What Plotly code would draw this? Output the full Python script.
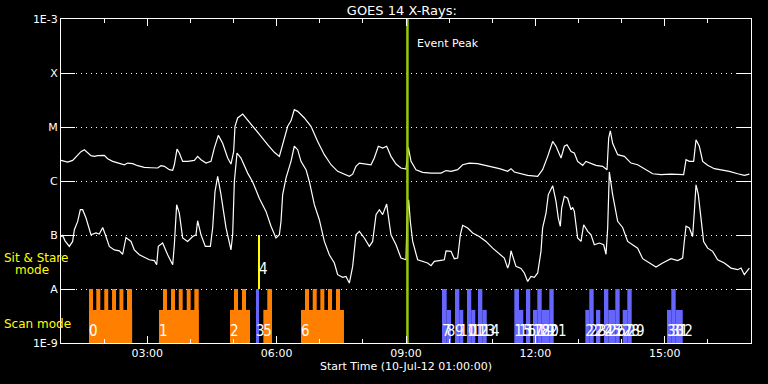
import pandas as pd
import plotly.graph_objects as go

START = "2012-07-10 01:00:00"
DAY = "2012-07-10 "

# ---------------- GOES 14 X-ray fluxes (W/m^2), time in minutes after start ----------------
long_min = [0, 9.3, 16.2, 20.9, 27.8, 32.5, 37.1, 41.7, 46.4, 51.0, 60.3, 64.9, 71.9, 81.2, 88.1,
            92.8, 99.7, 106.7, 115.9, 125.2, 134.5, 139.1, 143.8, 150.7, 155.4, 157.7, 161.4, 164.6,
            169.3, 176.2, 185.5, 190.1, 194.8, 201.7, 208.7, 213.3, 218.9, 224.9, 231.9, 236.5, 240.2,
            242.1, 245.8, 252.8, 259.7, 269.0, 278.3, 287.5, 296.8, 303.8, 308.4, 315.4, 320.0, 324.6,
            329.3, 338.6, 347.8, 357.1, 366.4, 375.7, 384.9, 394.2, 401.2, 405.8, 410.4, 415.1, 424.3,
            431.3, 435.9, 441.5, 447.5, 453.1, 459.1, 466.1, 473.0, 480.0, 481.4, 483.2, 487.0, 493.9,
            503.2, 514.8, 528.7, 535.7, 542.6, 551.9, 558.8, 568.1, 579.7, 589.0, 598.3, 609.9, 621.5,
            626.1, 630.7, 640.0, 649.3, 663.2, 670.1, 677.1, 684.1, 688.7, 695.7, 700.3, 704.0, 709.6,
            714.2, 718.8, 725.8, 730.4, 737.4, 744.3, 753.6, 759.7, 762.0, 764.3, 767.5, 774.5, 783.8,
            793.0, 802.3, 811.6, 823.2, 834.8, 848.7, 866.3, 869.6, 874.2, 880.2, 883.5, 888.1, 892.8,
            899.7, 909.0, 918.3, 929.9, 941.5, 950.7, 957.7]
long_flux = [2.41e-6, 2.24e-6, 2.41e-6, 2.86e-6, 3.5e-6, 3.8e-6, 3.3e-6, 2.94e-6, 2.86e-6, 2.94e-6,
             2.98e-6, 2.59e-6, 2.31e-6, 2.09e-6, 2.0e-6, 2.15e-6, 2.09e-6, 1.92e-6, 1.79e-6, 1.76e-6,
             1.74e-6, 1.92e-6, 1.87e-6, 1.62e-6, 1.58e-6, 2.0e-6, 3.9e-6, 3.3e-6, 2.31e-6, 2.31e-6,
             2.41e-6, 2.86e-6, 2.48e-6, 2.15e-6, 2.31e-6, 4.07e-6, 7.0e-6, 5.0e-6, 2.66e-6, 2.06e-6,
             3.5e-6, 1.03e-5, 1.47e-5, 1.74e-5, 1.36e-5, 9.6e-6, 6.7e-6, 4.7e-6, 3.4e-6, 2.86e-6,
             4.7e-6, 1.03e-5, 1.3e-5, 2.09e-5, 1.95e-5, 1.47e-5, 1.03e-5, 5.4e-6, 3.07e-6, 2.0e-6,
             1.51e-6, 1.31e-6, 1.22e-6, 1.34e-6, 1.87e-6, 2.15e-6, 2.09e-6, 2.0e-6, 2.66e-6, 4.4e-6,
             4.07e-6, 4.4e-6, 2.86e-6, 2.06e-6, 1.74e-6, 1.67e-6, 2.48e-6, 4.2e-6, 2.31e-6, 1.62e-6,
             1.45e-6, 1.40e-6, 1.40e-6, 1.56e-6, 1.51e-6, 1.62e-6, 2.0e-6, 2.15e-6, 2.09e-6, 1.95e-6,
             1.87e-6, 1.69e-6, 1.51e-6, 1.69e-6, 1.47e-6, 1.38e-6, 1.27e-6, 1.22e-6, 1.62e-6, 2.86e-6,
             5.4e-6, 4.4e-6, 2.66e-6, 4.4e-6, 4.7e-6, 3.5e-6, 3.3e-6, 2.31e-6, 1.95e-6, 2.31e-6,
             2.15e-6, 1.95e-6, 1.87e-6, 1.62e-6, 6.25e-6, 8.5e-6, 5.0e-6, 3.07e-6, 2.86e-6, 2.15e-6,
             2.0e-6, 1.69e-6, 1.36e-6, 1.31e-6, 1.34e-6, 1.31e-6, 2.48e-6, 2.31e-6, 2.31e-6, 5.8e-6,
             4.4e-6, 2.31e-6, 1.95e-6, 1.69e-6, 1.62e-6, 1.51e-6, 1.36e-6, 1.27e-6, 1.34e-6]

short_min = [0, 2.3, 5.6, 11.6, 16.2, 18.6, 23.2, 26.9, 30.1, 34.8, 41.7, 48.7, 53.3, 58.0, 62.6,
             67.2, 74.2, 81.2, 85.8, 90.4, 97.4, 102.0, 109.0, 115.9, 122.9, 129.9, 133.1, 135.4,
             141.4, 148.4, 155.4, 157.7, 160.9, 164.6, 169.3, 176.2, 183.2, 187.8, 190.1, 194.8,
             200.8, 207.8, 211.0, 214.3, 218.0, 222.6, 229.6, 236.5, 238.8, 241.2, 244.9, 250.4,
             259.7, 266.7, 275.9, 285.2, 292.2, 299.1, 303.8, 306.1, 308.4, 313.0, 320.0, 324.6,
             329.3, 333.9, 340.9, 345.5, 352.5, 359.4, 366.4, 373.3, 380.3, 384.9, 391.9, 396.5,
             401.2, 405.8, 410.4, 415.1, 422.0, 429.0, 433.6, 438.3, 442.9, 447.5, 453.1, 459.1,
             466.1, 473.0, 480.0, 481.4, 483.7, 486.0, 489.3, 496.2, 503.2, 510.1, 514.8, 519.4,
             528.7, 533.3, 535.7, 542.6, 547.2, 551.9, 555.6, 558.8, 565.8, 572.8, 582.0, 591.3,
             600.6, 609.9, 616.8, 621.5, 623.8, 626.1, 629.8, 633.0, 640.0, 644.6, 649.3, 653.9,
             658.6, 663.2, 667.8, 670.1, 674.8, 678.0, 684.1, 688.7, 691.9, 694.7, 696.6, 700.3,
             704.9, 709.6, 711.9, 714.2, 718.8, 723.5, 727.2, 732.8, 737.4, 742.0, 749.0, 755.0,
             758.3, 760.6, 762.9, 767.5, 774.5, 781.4, 788.4, 795.4, 802.3, 809.3, 818.5, 827.8,
             837.1, 848.7, 858.0, 864.9, 867.2, 869.6, 874.2, 878.8, 881.2, 883.5, 886.7, 890.4,
             894.1, 899.7, 906.7, 913.6, 922.9, 932.2, 941.5, 946.1, 950.7, 957.7]
short_flux = [9.4e-8, 9.8e-8, 7.8e-8, 6.15e-8, 7.6e-8, 1.25e-7, 1.79e-7, 2.94e-7, 2.94e-7, 2.06e-7,
              1.01e-7, 1.09e-7, 1.04e-7, 1.38e-7, 9.4e-8, 6.15e-8, 5.3e-8, 5.1e-8, 4.4e-8, 9.0e-8,
              7.6e-8, 5.3e-8, 4.3e-8, 3.9e-8, 3.48e-8, 3.35e-8, 2.82e-8, 6.15e-8, 7.1e-8, 4.3e-8,
              2.82e-8, 6.6e-8, 3.64e-7, 2.55e-7, 8.8e-8, 7.6e-8, 9.4e-8, 1.01e-7, 1.84e-7, 1.01e-7,
              6.15e-8, 6.15e-8, 1.35e-7, 6.4e-7, 1.22e-6, 5.6e-7, 1.35e-7, 5.3e-8, 1.01e-7, 9.8e-7,
              3.3e-6, 2.66e-6, 1.40e-6, 9.6e-7, 4.8e-7, 2.74e-7, 1.45e-7, 8.8e-8, 1.01e-7, 1.79e-7,
              5.6e-7, 1.13e-6, 2.31e-6, 4.4e-6, 3.8e-6, 2.31e-6, 1.62e-6, 9.8e-7, 3.64e-7, 1.92e-7,
              7.6e-8, 4.3e-8, 3.03e-8, 1.84e-8, 1.64e-8, 1.71e-8, 1.29e-8, 2.62e-8, 1.01e-7, 1.17e-7,
              8.8e-8, 6.15e-8, 7.6e-8, 2.38e-7, 2.94e-7, 2.38e-7, 3.74e-7, 1.01e-7, 6.6e-8, 3.74e-8,
              3.48e-8, 2.06e-7, 4.5e-7, 1.79e-7, 7.6e-8, 3.48e-8, 3.25e-8, 3.03e-8, 2.7e-8, 3.25e-8,
              3.4e-8, 3.48e-8, 5.1e-8, 4.98e-8, 3.64e-8, 3.74e-8, 1.01e-7, 1.51e-7, 1.35e-7, 1.09e-7,
              9.4e-8, 7.6e-8, 5.7e-8, 4.4e-8, 3.74e-8, 2.44e-8, 3.03e-8, 5.1e-8, 3.48e-8, 2.62e-8,
              2.4e-8, 1.98e-8, 1.38e-8, 1.71e-8, 1.64e-8, 1.98e-8, 4.98e-8, 1.35e-7, 2.55e-7, 5.6e-7,
              8.2e-7, 4.2e-7, 2.06e-7, 1.45e-7, 3.16e-7, 5.2e-7, 4.8e-7, 2.94e-7, 3.25e-7, 2.74e-7,
              8.8e-8, 7.6e-8, 1.55e-7, 1.17e-7, 1.01e-7, 6.6e-8, 7.1e-8, 6.6e-8, 4.4e-8, 1.35e-7,
              1.47e-6, 5.6e-7, 1.79e-7, 1.38e-7, 7.6e-8, 6.6e-8, 5.7e-8, 3.64e-8, 3.03e-8, 2.55e-8,
              3.03e-8, 3.64e-8, 3.35e-8, 3.74e-8, 7.6e-8, 1.45e-7, 1.35e-7, 9.4e-8, 2.74e-7, 8.5e-7,
              5.6e-7, 1.79e-7, 7.6e-8, 5.7e-8, 4.98e-8, 3.48e-8, 3.03e-8, 2.44e-8, 2.28e-8, 2.44e-8,
              1.84e-8, 2.44e-8]

# ---------------- observations ----------------
FULL_TOP = 1e-8      # bar top level (A)
MID_TOP = 4.1e-9     # lower bar level
FLOOR = 1e-9

# scan-mode observations (orange): overall extent
scan_ids = ["0", "1", "2", "5", "6"]
scan_start = ["01:39:00", "03:16:18", "04:55:06", "05:41:30", "06:33:54"]
scan_end = ["02:39:00", "04:11:36", "05:23:00", "05:53:36", "07:33:42"]
# raster teeth reaching the full level
tooth_start = ["01:39:00", "01:49:06", "02:00:12", "02:11:00", "02:21:18", "02:31:48",
               "03:21:54", "03:33:00", "03:43:48", "03:54:54", "04:05:30",
               "05:00:42", "05:11:48",
               "05:47:00",
               "06:39:30", "06:50:12", "07:00:48", "07:11:30", "07:22:36"]
tooth_end = ["01:44:30", "01:54:42", "02:05:42", "02:16:30", "02:26:48", "02:38:48",
             "03:27:30", "03:38:36", "03:49:18", "04:00:24", "04:11:36",
             "05:06:18", "05:17:24",
             "05:53:36",
             "06:45:06", "06:55:48", "07:06:24", "07:17:06", "07:28:12"]

# other observations (blue)
obs_ids = ["3"] + [str(i) for i in range(7, 33)]
obs_start = ["05:31:18",
             "09:50:06", "09:56:36", "10:08:12", "10:14:12", "10:24:54", "10:30:48", "10:40:12", "10:46:12",
             "11:30:42", "11:37:12", "11:46:54", "11:56:42", "12:02:42", "12:08:48", "12:19:24",
             "13:09:30", "13:15:00", "13:24:18", "13:35:30", "13:41:30", "13:51:12", "14:01:30", "14:07:54",
             "15:03:06", "15:09:06", "15:15:12"]
obs_end = ["05:35:30",
           "09:56:36", "10:02:36", "10:14:12", "10:19:42", "10:30:48", "10:36:24", "10:46:12", "10:52:18",
           "11:37:12", "11:43:12", "11:52:54", "12:02:42", "12:08:48", "12:19:24", "12:25:30",
           "13:15:00", "13:21:06", "13:30:18", "13:41:30", "13:51:12", "13:57:18", "14:07:54", "14:14:00",
           "15:09:06", "15:15:12", "15:25:00"]
obs_level = ["full",
             "full", "mid", "full", "mid", "full", "mid", "full", "mid",
             "full", "mid", "full", "mid", "full", "mid", "full",
             "mid", "full", "mid", "full", "mid", "full", "mid", "full",
             "mid", "full", "mid"]

# sit & stare observation (yellow)
sit_id = "4"
sit_time = "05:35:30"
sit_top = 1e-7

event_peak = "09:02:00"

y_tickvals = [1e-9, 1e-8, 1e-7, 1e-6, 1e-5, 1e-4, 1e-3]
y_ticktext = ["1E-9", "A", "B", "C", "M", "X", "1E-3"]

ORANGE = "#ff7f00"
BLUE = "#6666ff"
YELLOW = "#ffff00"
GREEN = "#99cc00"
NUMFONT = "Liberation Sans Narrow, DejaVu Sans Condensed, DejaVu Sans"

# ---------------- helpers ----------------
t0 = pd.Timestamp(START)
def tt(s):
    return pd.Timestamp(DAY + s)
def mins(lst):
    return [t0 + pd.Timedelta(minutes=m) for m in lst]
def bar_geom(starts, ends):
    s = [tt(a) for a in starts]
    e = [tt(b) for b in ends]
    centers = [a + (b - a) / 2 for a, b in zip(s, e)]
    widths = [(b - a).total_seconds() * 1000 for a, b in zip(s, e)]
    return centers, widths

fig = go.Figure()

# orange scan bases
c, w = bar_geom(scan_start, scan_end)
fig.add_trace(go.Bar(x=c, width=w, y=[MID_TOP - FLOOR] * len(c), base=FLOOR,
                     marker=dict(color=ORANGE, line=dict(width=0)), hoverinfo="skip"))
c, w = bar_geom(tooth_start, tooth_end)
fig.add_trace(go.Bar(x=c, width=w, y=[FULL_TOP - FLOOR] * len(c), base=FLOOR,
                     marker=dict(color=ORANGE, line=dict(width=0)), hoverinfo="skip"))
# blue observations
c, w = bar_geom(obs_start, obs_end)
tops = [FULL_TOP if lv == "full" else MID_TOP for lv in obs_level]
fig.add_trace(go.Bar(x=c, width=w, y=[t - FLOOR for t in tops], base=FLOOR,
                     marker=dict(color=BLUE, line=dict(width=0)), hoverinfo="skip"))

# GOES curves
fig.add_trace(go.Scatter(x=mins(long_min), y=long_flux, mode="lines",
                         line=dict(color="white", width=1.2)))
fig.add_trace(go.Scatter(x=mins(short_min), y=short_flux, mode="lines",
                         line=dict(color="white", width=1.2)))

# sit & stare line
fig.add_trace(go.Scatter(x=[tt(sit_time)] * 2, y=[FULL_TOP, sit_top], mode="lines",
                         line=dict(color=YELLOW, width=2)))

# observation numbers
label_y = 1.6e-9
fig.add_trace(go.Scatter(x=[tt(s) for s in scan_start] + [tt(s) for s in obs_start],
                         y=[label_y] * (len(scan_start) + len(obs_start)),
                         text=scan_ids + obs_ids, mode="text", textposition="middle right",
                         textfont=dict(color="white", size=15, family=NUMFONT)))
fig.add_trace(go.Scatter(x=[tt(sit_time)], y=[2.23e-8], text=[sit_id], mode="text",
                         textposition="middle right",
                         textfont=dict(color="white", size=15, family=NUMFONT)))

# event peak line
fig.add_trace(go.Scatter(x=[tt(event_peak)] * 2, y=[1e-9, 1e-3], mode="lines",
                         line=dict(color=GREEN, width=2.5)))

fig.update_layout(
    width=768, height=384,
    margin=dict(l=61, r=17, t=19, b=41),
    paper_bgcolor="black", plot_bgcolor="black",
    showlegend=False, barmode="overlay",
    font=dict(family="DejaVu Sans", color="white", size=11),
    title=dict(text="GOES 14 X-Rays:", x=0.494, xref="paper", xanchor="center",
               y=1 - 10 / 384, yref="container", yanchor="middle",
               font=dict(size=13, color="white")),
)

fig.update_xaxes(
    type="date", range=[tt("01:00:00"), tt("17:00:00")],
    tick0=DAY + "00:00:00", dtick=3 * 3600 * 1000, tickformat="%H:%M",
    ticks="inside", ticklen=7, tickcolor="white", tickwidth=1,
    minor=dict(dtick=3600 * 1000, ticks="inside", ticklen=4, tickcolor="white", showgrid=False),
    showline=True, linecolor="white", linewidth=1, mirror="ticks",
    showgrid=False, zeroline=False,
    tickfont=dict(size=11, color="white"),
    title=dict(text="Start Time (10-Jul-12 01:00:00)", standoff=2, font=dict(size=11, color="white")),
)
fig.update_yaxes(
    type="log", range=[-9, -3],
    tickmode="array", tickvals=y_tickvals, ticktext=y_ticktext,
    ticks="inside", ticklen=14, tickcolor="white", tickwidth=1,
    showline=True, linecolor="white", linewidth=1, mirror="ticks",
    showgrid=True, gridcolor="white", gridwidth=1, griddash="1px,4px",
    zeroline=False, tickfont=dict(size=11, color="white"),
)

fig.add_annotation(text="Event Peak", x=tt(event_peak), xref="x", xanchor="left", xshift=8,
                   y=(343 - 43) / 324, yref="paper", yanchor="middle", showarrow=False,
                   font=dict(size=11, color="white"))
for txt, xp, yp in [("Sit & Stare", 2, 258), ("mode", 13, 270), ("Scan mode", 2, 324)]:
    fig.add_annotation(text=txt, x=(xp - 61) / 690, xref="paper", xanchor="left",
                       y=(343 - yp) / 324, yref="paper", yanchor="middle", showarrow=False,
                       font=dict(size=12, color=YELLOW))

fig.write_html("out.html", config={"displayModeBar": False},
               post_script="document.body.style.margin='0';document.body.style.background='black';")
